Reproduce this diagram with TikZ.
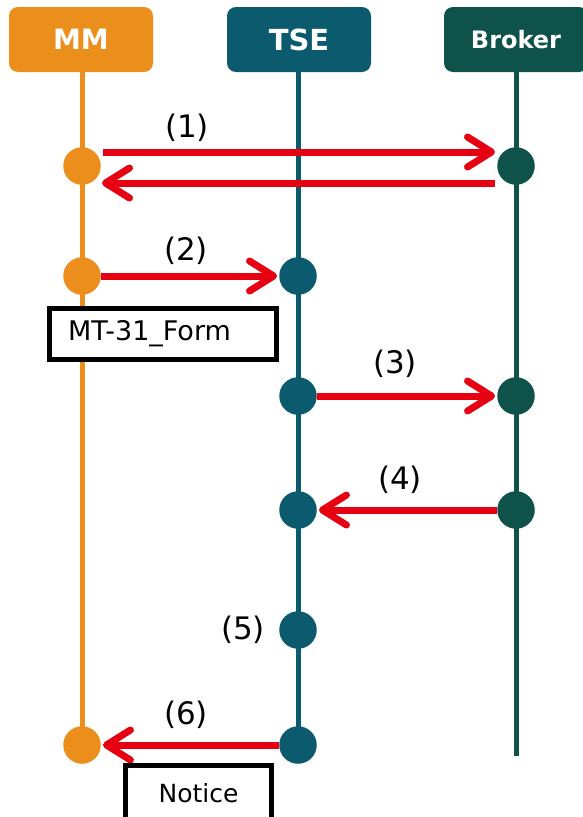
\documentclass[tikz,border=0pt]{standalone}
\usepackage{fontspec}
\setmainfont{DejaVu Sans}
\usetikzlibrary{arrows.meta,calc}
\definecolor{mmc}{RGB}{236,142,28}
\definecolor{tsec}{RGB}{12,90,110}
\definecolor{brc}{RGB}{14,82,74}
\definecolor{arr}{RGB}{230,0,18}
\begin{document}
\begin{tikzpicture}[x=1pt,y=-1pt,
  head/.style={rounded corners=9pt, minimum width=144pt, minimum height=65pt, text=white, inner sep=0pt},
  life/.style={line width=5pt},
  dot/.style={circle, minimum size=37.5pt, inner sep=0pt},
  msg/.style={draw=arr, line width=7pt, -{Straight Barb[length=24pt,width=30pt,round]}},
  lbl/.style={font=\fontsize{31}{34}\selectfont, inner sep=0pt},
  doc/.style={draw=black, line width=5pt, fill=white}]
\useasboundingbox (0,0) rectangle (582,817);
% headers
\node[head, fill=mmc, font=\bfseries\fontsize{28}{30}\selectfont] (mm) at (81,39.5) {MM};
\node[head, fill=tsec, font=\bfseries\fontsize{29}{30}\selectfont] (tse) at (299,39.5) {TSE};
\node[head, fill=brc, font=\bfseries\fontsize{24}{30}\selectfont] (br) at (516,39.5) {Broker};
% lifeline ends
\coordinate (mmend) at (82,745);
\coordinate (tseend) at (298,745);
\coordinate (brend) at (516,756);
\draw[life, mmc] (mm.south -| mmend) -- (mmend);
\draw[life, tsec] (tse.south -| tseend) -- (tseend);
\draw[life, brc] (br.south -| brend) -- (brend);
% dots
\node[dot, fill=mmc] (m1) at (82,166) {};
\node[dot, fill=brc] (b1) at (516,166) {};
\node[dot, fill=mmc] (m2) at (82,276) {};
\node[dot, fill=tsec] (t2) at (298,276) {};
\node[dot, fill=tsec] (t3) at (298,396) {};
\node[dot, fill=brc] (b3) at (516,396) {};
\node[dot, fill=tsec] (t4) at (298,510) {};
\node[dot, fill=brc] (b4) at (516,510) {};
\node[dot, fill=tsec] (t5) at (298,630) {};
\node[dot, fill=tsec] (t6) at (298,745) {};
\node[dot, fill=mmc] (m6) at (82,745) {};
% messages
\draw[msg] ($(m1.center)+(21,-14)$) -- ($(b1.center)+(-21,-14)$);
\draw[msg] ($(b1.center)+(-21,17)$) -- ($(m1.center)+(20,17)$);
\draw[msg, shorten >=2pt] (m2) -- (t2);
\draw[msg, shorten >=2pt] (t3) -- (b3);
\draw[msg, shorten >=2pt] (b4) -- (t4);
\draw[msg, shorten >=2pt] (t6) -- (m6);
% labels
\node[lbl] (l1) at (187,128) {(1)};
\node[lbl] (l2) at (186,251) {(2)};
\node[lbl] (l3) at (395,364) {(3)};
\node[lbl] (l4) at (400,480) {(4)};
\node[lbl] (l5) at (243,630) {(5)};
\node[lbl] (l6) at (186,715) {(6)};
% documents
\node[doc, font=\fontsize{27}{30}\selectfont, minimum width=227pt, minimum height=51pt, text width=190pt, inner xsep=18.5pt, inner ysep=0pt, align=left] (form) at (163,334) {MT-31\_Form};
\node[doc, font=\fontsize{25}{30}\selectfont, minimum width=146pt, minimum height=55pt, inner sep=0pt] (notice) at (198.5,793) {Notice};
\end{tikzpicture}
\end{document}
